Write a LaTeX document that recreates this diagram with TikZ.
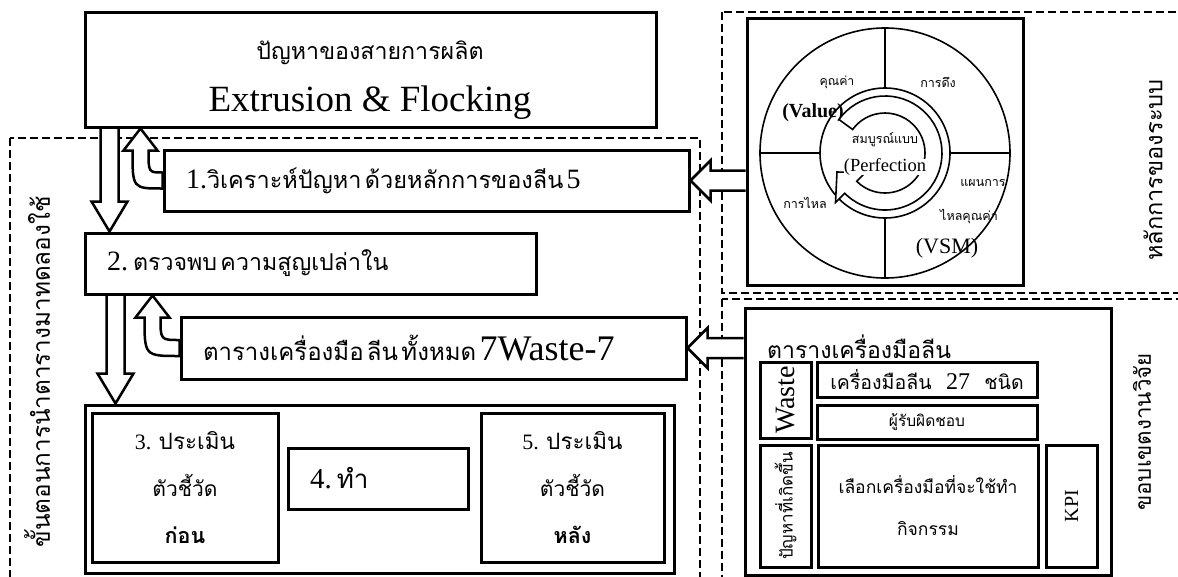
\documentclass[tikz,border=0pt]{standalone}
\usepackage{fontspec}
\setmainfont{Liberation Serif}
\newfontfamily\thai[Script=Thai, WordSpace=2.2]{Loma}
\usetikzlibrary{calc}
\pgfdeclarelayer{background}
\pgfdeclarelayer{arrowlayer}
\pgfsetlayers{background,arrowlayer,main}
\newcommand\fsz[2]{\fontsize{#1}{#2}\selectfont}
\newcommand\blockdown[2]{%
  \draw[blockarrow] ($(#1)+(-9,0)$) -- ($(#2)+(-9,-30)$) -- ($(#2)+(-18,-30)$) -- (#2)
    -- ($(#2)+(18,-30)$) -- ($(#2)+(9,-30)$) -- ($(#1)+(9,0)$);}
\newcommand\blockup[2]{%
  \draw[blockarrow] (#1) -- ($(#1)+(17,22)$) -- ($(#1)+(8,22)$)
    .. controls ($(#1 |- #2)+(8,-8)$) .. ($(#2)+(0,-8)$) -- ($(#2)+(0,8)$)
    .. controls ($(#1 |- #2)+(-8,8)$) .. ($(#1)+(-8,22)$) -- ($(#1)+(-17,22)$) -- cycle;}
\newcommand\blockleft[2]{%
  \draw[blockarrow] ($(#1)+(0,-10)$) -- ($(#2)+(20,-10)$) -- ($(#2)+(20,-20)$) -- (#2)
    -- ($(#2)+(20,20)$) -- ($(#2)+(20,10)$) -- ($(#1)+(0,10)$);}
\tikzset{
  frameline/.style={draw, line width=3pt},
  box/.style={frameline, inner sep=0pt, align=center},
  leftbox/.style={frameline, inner ysep=0pt, inner xsep=22pt, align=left},
  region/.style={line width=2.2pt, dash pattern=on 8pt off 4pt},
  blockarrow/.style={fill=white, line width=2.5pt, line join=miter},
  wheel/.style={line width=1.6pt},
  plainlabel/.style={inner sep=0pt}
}
\begin{document}
\begin{tikzpicture}[x=1pt, y=-1pt]
  \useasboundingbox (0,0) rectangle (1178,576);
  \clip (0,0) rectangle (1178,576);
  \begin{pgfonlayer}{background}
    \draw[region] (10,138) rectangle (700,590);
    \draw[region] (722,12) rectangle (1190,293);
    \draw[region] (722,299) rectangle (1190,590);
  \end{pgfonlayer}

  \node[box, minimum width=571pt, minimum height=115pt] (prob) at (370.5,69.5) {};
  \node[plainlabel] (probth) at (370,53) {\thai\fsz{23.2}{28}ปัญหาของสายการผลิต};
  \node[plainlabel] (probline) at (370,103) {\fsz{37}{40}Extrusion \& Flocking};
  \node[leftbox, text width=481pt, minimum height=61pt] (anal) at (426.5,180.5)
    {\fsz{28}{30}1.{\thai\fsz{23.5}{30}วิเคราะห์ปัญหา ด้วยหลักการของลีน} 5};
  \node[leftbox, text width=407pt, minimum height=61pt] (detect) at (310.5,263.5)
    {\fsz{28}{30}2. {\thai\fsz{23.2}{30}ตรวจพบ ความสูญเปล่าใน}};
  \node[leftbox, text width=461pt, minimum height=62pt] (waste7) at (433.5,348)
    {{\thai\fsz{24}{30}ตารางเครื่องมือ ลีน ทั้งหมด} \fsz{36}{40}7Waste-7};
  \node[box, minimum width=589pt, minimum height=168pt] (frame) at (379.5,489) {};
  \node[box, minimum width=186pt, minimum height=149pt, font=\fsz{22}{47}] (before) at (185,487.5)
    {3. {\thai\fsz{22.5}{47}ประเมิน}\\{\thai\fsz{21}{47}ตัวชี้วัด}\\{\thai\bfseries\fsz{21.5}{47}ก่อน}};
  \node[leftbox, text width=136pt, minimum height=61pt] (act) at (378,478.5)
    {\fsz{29}{30}4. {\thai\fsz{26}{30}ทำ}};
  \node[box, minimum width=183pt, minimum height=149pt, font=\fsz{22}{47}] (after) at (572.5,487.5)
    {5. {\thai\fsz{22.5}{47}ประเมิน}\\{\thai\fsz{21}{47}ตัวชี้วัด}\\{\thai\bfseries\fsz{21.5}{47}หลัง}};
  \node[rotate=90] (steps) at (37,372) {\thai\fsz{24.3}{28}ขั้นตอนการนำตารางมาทดลองใช้};

  \node[box, minimum width=276pt, minimum height=267pt] (lean) at (885,151.5) {};
  \coordinate (hub) at (885,153);
  \draw[wheel] (hub) circle[radius=125];
  \draw[wheel] (hub) circle[radius=65];
  \foreach \dx/\dy in {0/-1,0/1,-1/0,1/0}
    \draw[wheel] ($(hub)+(65*\dx,65*\dy)$) -- ($(hub)+(125*\dx,125*\dy)$);
  \node[plainlabel] (value) at (837,82) {\thai\fsz{12.3}{14}คุณค่า};
  \node[plainlabel] (valueen) at (813,113) {\bfseries\fsz{20}{22}(Value)};
  \node[plainlabel] (pull) at (938,82) {\thai\fsz{12.5}{14}การดึง};
  \node[plainlabel] (flow) at (805,203) {\thai\fsz{12.5}{14}การไหล};
  \node[plainlabel] (vsm) at (983,183) {\thai\fsz{12.5}{14}แผนการ};
  \node[plainlabel] (vsmb) at (969,217) {\thai\fsz{12.5}{14}ไหลคุณค่า};
  \node[plainlabel] (vsmen) at (947,248) {\fsz{22}{24}(VSM)};
  \begin{scope}[shift={(hub)}, y=1pt]
    \draw[wheel, fill=white] (144:57) arc[start angle=144, end angle=-135, radius=57]
      -- (-135:70) -- (-48,-19) -- (-135:28) -- (-135:40)
      arc[start angle=-135, end angle=144, radius=40] -- cycle;
  \end{scope}
  \node[plainlabel] (perf) at (885,140) {\thai\fsz{12.5}{14}สมบูรณ์แบบ};
  \node[plainlabel, fill=white] (perfen) at (885,167) {\fsz{18.5}{20}(Perfection};
  \node[rotate=90] (principle) at (1153,170) {\thai\fsz{23.6}{28}หลักการของระบบ};

  \node[box, minimum width=366pt, minimum height=267pt] (tools) at (928,441.5) {};
  \node[plainlabel, anchor=west] (toolstitle) at (767,347) {\thai\fsz{23}{26}ตารางเครื่องมือลีน};
  \node[box, rotate=90, minimum width=76pt, minimum height=51pt] (wastebox) at (785.5,400) {\fsz{28}{30}Waste};
  \node[box, minimum width=220pt, minimum height=35pt] (lean27) at (927,379.5)
    {\thai\fsz{19.5}{20}เครื่องมือลีน {\rmfamily\fsz{24}{26}27} ชนิด};
  \node[box, minimum width=220pt, minimum height=34pt] (resp) at (927,422) {\thai\fsz{15.5}{18}ผู้รับผิดชอบ};
  \node[box, rotate=90, minimum width=122pt, minimum height=51pt] (issue) at (785.5,506) {\thai\fsz{17}{20}ปัญหาที่เกิดขึ้น};
  \node[box, minimum width=220pt, minimum height=122pt, font=\thai\fsz{17.5}{42}] (choose) at (928,506)
    {เลือกเครื่องมือที่จะใช้ทำ\\กิจกรรม};
  \node[box, rotate=90, minimum width=122pt, minimum height=51pt] (kpi) at (1071.5,506) {\fsz{20}{22}KPI};
  \node[rotate=90] (scopelabel) at (1142,432) {\thai\fsz{22.3}{26}ขอบเขตงานวิจัย};

  \coordinate (dn1) at ($(prob.south west)+(26,0)$);
  \coordinate (dn1tip) at ($(detect.north west)+(26,0)$);
  \coordinate (dn2) at ($(detect.south west)+(32,0)$);
  \coordinate (dn2tip) at ($(frame.north west)+(32,0)$);
  \coordinate (up1) at ($(prob.south west)+(57,0)$);
  \coordinate (up2) at ($(detect.south west)+(69,0)$);
  \begin{pgfonlayer}{arrowlayer}
    \blockdown{dn1}{dn1tip}
    \blockdown{dn2}{dn2tip}
    \blockup{up1}{anal.west}
    \blockup{up2}{waste7.west}
    \blockleft{lean.west |- anal.east}{anal.east}
    \blockleft{tools.west |- waste7.east}{waste7.east}
  \end{pgfonlayer}
\end{tikzpicture}
\end{document}
